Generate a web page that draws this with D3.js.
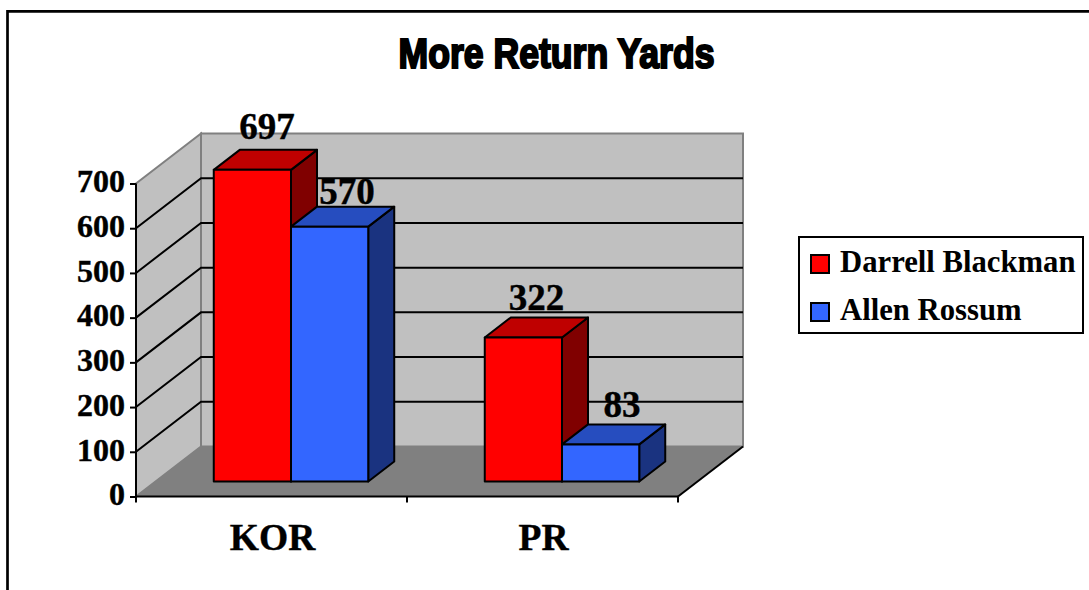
<!DOCTYPE html>
<html><head><meta charset="utf-8">
<script src="https://cdn.jsdelivr.net/npm/d3@7"></script>
<style>html,body{margin:0;padding:0;background:#fff}svg{display:block}</style>
</head><body><svg id="c" width="1089" height="590"></svg>
<script>
const chartTitle = "More Return Yards";
const categories = ["KOR", "PR"];
const seriesNames = ["Darrell Blackman", "Allen Rossum"];
const darrellValues = [697, 322];
const allenValues = [570, 83];
const yTicks = [0, 100, 200, 300, 400, 500, 600, 700];

const serif = "'Liberation Serif','Times New Roman',serif";
const svg = d3.select("#c");
const series = [
  {name: seriesNames[0], values: darrellValues, front: "#ff0000", top: "#bf0000", side: "#800000", nudge: [[1.5, -11], [0, -8]]},
  {name: seriesNames[1], values: allenValues, front: "#3366ff", top: "#264dbf", side: "#1a3380", nudge: [[4.5, -3], [8.5, -7]]}
];

svg.append("path").attr("d", "M7.5,590V11.3H1089").attr("fill", "none")
  .attr("stroke", "#000").attr("stroke-width", 2.7);

const x = d3.scaleBand().domain(categories).range([136, 678]);
const y = d3.scaleLinear().domain([0, 700]).range([496.5, 183.5]);
const depth = d3.scaleLinear().domain([0, 1]).range([0, 65]);
const depthY = d3.scaleLinear().domain([0, 1]).range([0, -50]);
const DX = depth(1), DY = depthY(1);
const path = pts => d3.line()(pts) + "Z";
const [xl, xr] = x.range(), y0 = y(0), yT = y(700);

// walls and floor
svg.append("path").attr("d", path([[xl + DX, yT + DY], [xr + DX, yT + DY], [xr + DX, y0 + DY], [xl + DX, y0 + DY]]))
  .attr("fill", "#c0c0c0").attr("stroke", "#808080").attr("stroke-width", 2);
svg.append("path").attr("d", path([[xl, yT], [xl + DX, yT + DY], [xl + DX, y0 + DY], [xl, y0]]))
  .attr("fill", "#c0c0c0").attr("stroke", "#808080").attr("stroke-width", 2);
svg.append("path").attr("d", path([[xl, y0], [xl + DX, y0 + DY], [xr + DX, y0 + DY], [xr, y0]]))
  .attr("fill", "#808080").attr("stroke", "none");

// gridlines
const grid = svg.append("g").attr("fill", "none").attr("stroke", "#000").attr("stroke-width", 2);
yTicks.filter(t => t > 0 && t < 700).forEach(t => {
  grid.append("path").attr("d", d3.line()([[xl, y(t)], [xl + DX, y(t) + DY], [xr + DX, y(t) + DY]]));
});
grid.append("path").attr("d", d3.line()([[xr, y0], [xr + DX, y0 + DY]]));

// axes
const axisY = d3.axisLeft(y).tickValues(yTicks).tickSize(6).tickPadding(4);
const gy = svg.append("g").attr("transform", `translate(${xl},0)`).call(axisY);
gy.select(".domain").attr("stroke-width", 2).attr("d", `M0,${yT}V${y0}`);
gy.selectAll("line").attr("stroke-width", 2);
gy.selectAll("text").attr("font-family", serif).attr("font-weight", "bold").attr("font-size", 32).attr("fill", "#000")
  .attr("stroke", "#000").attr("stroke-width", 0.4)
  .attr("dy", "0.26em").attr("x", -11);

const axisX = d3.axisBottom(x).tickSize(0).tickPadding(0);
const gx = svg.append("g").attr("transform", `translate(0,${y0})`).call(axisX);
gx.select(".domain").attr("stroke-width", 2).attr("d", `M${xl},0H${xr}`);
gx.selectAll("text").attr("font-family", serif).attr("font-weight", "bold").attr("font-size", 37.5).attr("fill", "#000")
  .attr("stroke", "#000").attr("stroke-width", 0.4)
  .attr("x", 1).attr("y", 53).attr("dy", 0);
const bandEdges = [xl, xl + x.step(), xr];
bandEdges.forEach(v => gx.append("line").attr("x1", v).attr("x2", v).attr("y1", 0).attr("y2", 6)
  .attr("stroke", "#000").attr("stroke-width", 2));

// bars
const groupShare = 0.57;
const inner = d3.scaleBand().domain(seriesNames).range([0, x.bandwidth() * groupShare]);
const gapL = x.bandwidth() * (1 - groupShare) / 2;
const d0 = 0.3, d1 = 0.7;
const barsG = svg.append("g").attr("stroke", "#000").attr("stroke-width", 2).attr("stroke-linejoin", "round");
const labels = [];
categories.forEach((cat, ci) => {
  series.forEach(s => {
    const v = s.values[ci];
    const a = x(cat) + gapL + inner(s.name) + depth(d0);
    const b = a + inner.bandwidth();
    const fy = depthY(d0), ox = depth(d1) - depth(d0), oy = depthY(d1) - depthY(d0);
    const yb = y0 + fy, yt = y(v) + fy;
    barsG.append("path").attr("fill", s.side).attr("d", path([[b, yb], [b + ox, yb + oy], [b + ox, yt + oy], [b, yt]]));
    barsG.append("path").attr("fill", s.top).attr("d", path([[a, yt], [a + ox, yt + oy], [b + ox, yt + oy], [b, yt]]));
    barsG.append("path").attr("fill", s.front).attr("d", path([[a, yb], [a, yt], [b, yt], [b, yb]]));
    labels.push({v, x: (a + b) / 2 + ox / 2 + s.nudge[ci][0], y: yt + oy + s.nudge[ci][1]});
  });
});
svg.append("g").selectAll("text").data(labels).join("text")
  .attr("x", d => d.x).attr("y", d => d.y)
  .attr("text-anchor", "middle").attr("font-family", serif).attr("font-weight", "bold")
  .attr("stroke", "#000").attr("stroke-width", 0.4)
  .attr("font-size", 37).attr("fill", "#000").text(d => d.v);

// title
svg.append("text").attr("x", 556.5).attr("y", 68).attr("text-anchor", "middle")
  .attr("font-family", "'Liberation Sans Narrow','Liberation Sans',sans-serif").attr("font-weight", "bold")
  .attr("font-size", 43).attr("fill", "#000").attr("stroke", "#000").attr("stroke-width", 2.2)
  .attr("textLength", 316).attr("lengthAdjust", "spacingAndGlyphs").text(chartTitle);

// legend
const legend = svg.append("g");
legend.append("rect").attr("x", 799).attr("y", 237).attr("width", 284).attr("height", 96)
  .attr("fill", "#fff").attr("stroke", "#000").attr("stroke-width", 2);
const legY = d3.scalePoint().domain(seriesNames).range([264, 312]);
series.forEach(s => {
  legend.append("rect").attr("x", 811).attr("y", legY(s.name) - 9).attr("width", 18).attr("height", 18)
    .attr("fill", s.front).attr("stroke", "#000").attr("stroke-width", 2);
  legend.append("text").attr("x", 840).attr("y", legY(s.name) + 8).attr("font-family", serif)
    .attr("font-weight", "bold").attr("font-size", 30.7).attr("fill", "#000").text(s.name);
});
</script></body></html>
